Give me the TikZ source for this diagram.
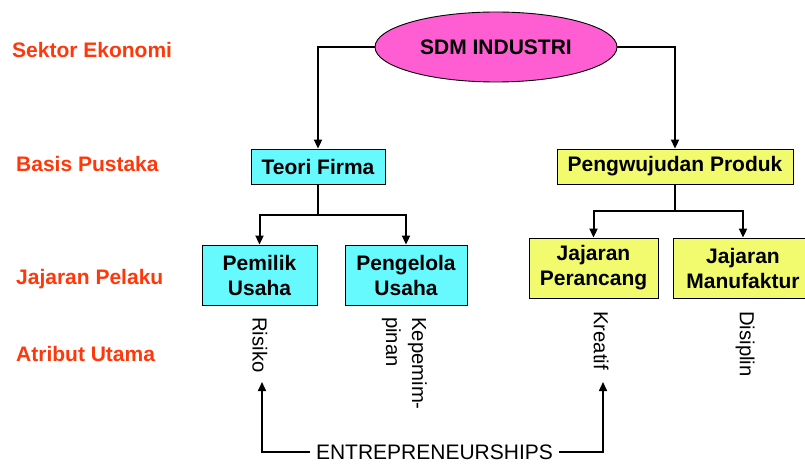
\documentclass[tikz,border=0pt]{standalone}
\usepackage{fontspec}
\setmainfont{Liberation Sans}
\usetikzlibrary{shapes.geometric,arrows.meta}

\definecolor{sdmpink}{RGB}{255,94,210}
\definecolor{firmcyan}{RGB}{102,250,255}
\definecolor{prodyellow}{RGB}{242,250,110}
\definecolor{rowred}{RGB}{255,55,10}

\tikzset{
  boxtext/.style={font=\fontsize{21}{25}\selectfont\bfseries, align=center, inner sep=0pt},
  cyanbox/.style={boxtext, draw=black, line width=0.9pt, fill=firmcyan, rectangle},
  yellowbox/.style={boxtext, draw=black, line width=0.9pt, fill=prodyellow, rectangle},
  rowlabel/.style={font=\fontsize{21}{25}\selectfont\bfseries, text=rowred, anchor=west, inner sep=0pt},
  attr/.style={font=\fontsize{20.3}{26}\selectfont, rotate=-90, inner sep=0pt, align=left},
  link/.style={line width=2pt, draw=black},
  arr/.style={link, -{Triangle[length=9pt,width=8pt]}},
}

\begin{document}
\begin{tikzpicture}[x=1pt,y=-1pt]
\useasboundingbox (0,0) rectangle (805,468);

% row labels on the left
\node[rowlabel] (lsek) at (12,50) {Sektor Ekonomi};
\node[rowlabel] (lbas) at (16,164) {Basis Pustaka};
\node[rowlabel] (ljaj) at (16,279) {Jajaran Pelaku};
\node[rowlabel] (latr) at (16,354) {Atribut Utama};

% top of the hierarchy
\node[ellipse, draw=black, line width=0.9pt, fill=sdmpink, minimum width=242, minimum height=70, inner sep=0pt,
      font=\fontsize{21}{25}\selectfont\bfseries] (sdm) at (496,47) {SDM INDUSTRI};

% second level
\node[cyanbox, minimum width=134, minimum height=35] (teori) at (318,166.5) {Teori Firma};
\node[yellowbox, minimum width=236, minimum height=35] (pengw) at (675,166.5) {Pengwujudan Produk};

% third level
\node[cyanbox, minimum width=115, minimum height=60] (pemilik) at (259.5,275) {Pemilik\\Usaha};
\node[cyanbox, minimum width=122, minimum height=60] (pengelola) at (406,275) {Pengelola\\Usaha};
\node[yellowbox, minimum width=129, minimum height=60] (perancang) at (593.5,268) {Jajaran\\Perancang};
\node[yellowbox, minimum width=140, minimum height=60] (manuf) at (743,268) {Jajaran\\Manufaktur};

% attributes, written top to bottom
\node[attr, anchor=west] (risiko) at (260,317) {Risiko};
\node[attr, anchor=north west] (kepem) at (427,317) {Kepemim-\\pinan};
\node[attr, anchor=west] (kreatif) at (601,311) {Kreatif};
\node[attr, anchor=west] (disiplin) at (745,311) {Disiplin};

% bottom caption
\node[font=\fontsize{21}{25}\selectfont, inner sep=0pt] (entre) at (434.5,452) {ENTREPRENEURSHIPS};

% connectors from the top node
\draw[arr] (sdm.west) -| (teori.north);
\draw[arr] (sdm.east) -| (pengw.north);

% branching below the second level
\coordinate (tj) at (318,215);
\coordinate (pj) at (675,211);
\draw[link] (teori.south) -- (tj);
\draw[arr] (tj) -| (pemilik.north);
\draw[arr] (tj) -| (pengelola.north);
\draw[link] (pengw.south) -- (pj);
\draw[arr] (pj) -| (perancang.north);
\draw[arr] (pj) -| (manuf.north);

% entrepreneurship links up to the attributes
\coordinate (rtip) at (262,382);
\coordinate (ktip) at (603,382);
\draw[arr, line width=1.6pt] ([xshift=-6pt]entre.west) -| (rtip);
\draw[arr, line width=1.6pt] ([xshift=6pt]entre.east) -| (ktip);
\end{tikzpicture}
\end{document}
